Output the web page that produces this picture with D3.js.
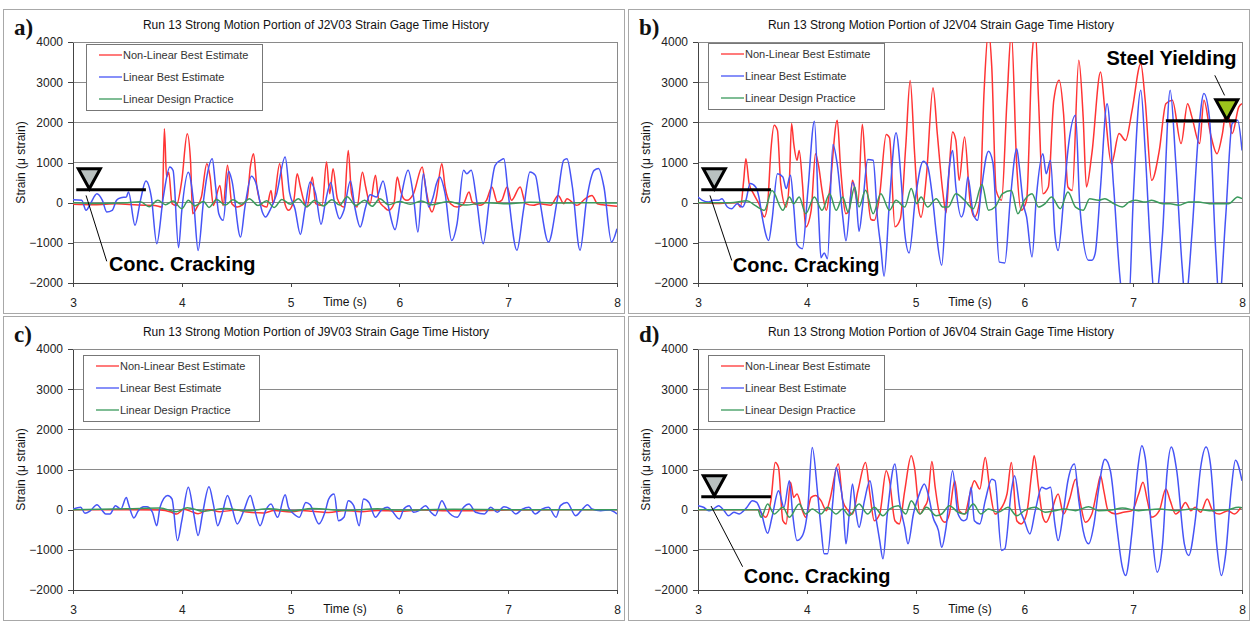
<!DOCTYPE html>
<meta charset="utf-8">
<style>
body { margin: 0; background: #fff; }
text { font-family: Arial, "Liberation Sans", sans-serif; fill: #111; }
.frame { fill: none; stroke: #a8a8a8; }
.grid line { stroke: #8a8a8a; shape-rendering: crispEdges; }
.axis path, .axis line { stroke: #444; shape-rendering: crispEdges; }
.axis text { font-size: 12px; font-family: Arial, "Liberation Sans", sans-serif; fill: #222; }
.series { fill: none; stroke-width: 1.5; stroke-linejoin: round; }
.legend rect { fill: #fff; stroke: #777; }
.note { font-weight: bold; font-size: 20px; fill: #000; }
</style>
<body>
<script src="https://d3js.org/d3.v7.min.js"></script>
<script>
var timeTicks = [3, 4, 5, 6, 7, 8];
var strainTicks = [-2000, -1000, 0, 1000, 2000, 3000, 4000];
var seriesNames = ["Non-Linear Best Estimate", "Linear Best Estimate", "Linear Design Practice"];
var seriesColors = ["#ff3434", "#4654f6", "#3a9a5c"];

// a) J2V03  [time (s), strain (micro strain)]
var j2v03NonLinear = [[3.00,-40],[3.20,-50],[3.40,-30],[3.60,-60],[3.75,-70],[3.82,-110],[3.84,1840],[3.86,640],[3.88,760],[3.91,-25],[3.95,-70],[4.00,555],[4.05,1715],[4.08,1050],[4.10,-275],[4.14,-110],[4.18,140],[4.23,970],[4.26,640],[4.29,-70],[4.35,430],[4.38,-70],[4.42,930],[4.46,-25],[4.51,-110],[4.55,-70],[4.60,100],[4.63,890],[4.66,1220],[4.69,390],[4.74,-70],[4.78,-110],[4.82,305],[4.84,-25],[4.90,970],[4.94,60],[4.98,-190],[5.03,60],[5.06,720],[5.09,390],[5.12,60],[5.15,-110],[5.20,640],[5.23,-25],[5.29,-70],[5.33,1010],[5.36,225],[5.39,845],[5.43,100],[5.49,-110],[5.53,1300],[5.56,225],[5.61,-110],[5.66,760],[5.69,390],[5.73,-25],[5.78,680],[5.81,60],[5.86,-110],[5.90,-190],[5.95,-25],[5.98,640],[6.01,305],[6.04,100],[6.07,58],[6.13,225],[6.21,890],[6.24,390],[6.30,-230],[6.34,140],[6.39,970],[6.42,390],[6.47,-25],[6.53,-108],[6.59,-25],[6.64,265],[6.67,15],[6.74,-65],[6.80,58],[6.85,390],[6.90,15],[6.94,58],[6.99,390],[7.03,58],[7.11,390],[7.16,-25],[7.23,-65],[7.29,-25],[7.39,-65],[7.46,180],[7.51,-25],[7.54,100],[7.63,-65],[7.71,100],[7.77,180],[7.82,-25],[7.91,-65],[8.00,-90]];
var j2v03Linear = [[3.00,75],[3.08,58],[3.12,-190],[3.16,-25],[3.22,225],[3.27,58],[3.31,-230],[3.36,-190],[3.40,58],[3.44,125],[3.49,140],[3.51,265],[3.57,-565],[3.62,58],[3.67,540],[3.72,140],[3.77,-1020],[3.83,140],[3.89,890],[3.92,800],[3.97,-1120],[4.00,-190],[4.06,760],[4.11,-25],[4.15,-1190],[4.20,60],[4.23,640],[4.28,1095],[4.31,420],[4.34,-275],[4.38,-440],[4.43,780],[4.46,555],[4.54,-855],[4.58,-108],[4.64,660],[4.68,500],[4.74,-230],[4.77,-355],[4.81,-190],[4.87,200],[4.95,1140],[4.99,260],[5.04,-150],[5.09,-790],[5.13,-190],[5.18,515],[5.23,225],[5.28,-540],[5.32,15],[5.37,500],[5.40,60],[5.45,-400],[5.49,-190],[5.55,540],[5.59,-108],[5.64,-605],[5.69,-108],[5.73,200],[5.79,140],[5.85,540],[5.90,-108],[5.96,-670],[6.01,58],[6.08,805],[6.13,140],[6.17,-730],[6.22,720],[6.27,-108],[6.31,140],[6.34,470],[6.37,640],[6.42,225],[6.48,-940],[6.53,-520],[6.59,805],[6.62,720],[6.66,805],[6.71,58],[6.77,-1020],[6.83,140],[6.88,930],[6.93,1055],[6.96,1095],[7.00,225],[7.08,-1185],[7.14,-190],[7.20,765],[7.25,680],[7.29,58],[7.37,-980],[7.45,58],[7.51,1055],[7.54,1095],[7.59,390],[7.66,-1185],[7.72,58],[7.79,805],[7.83,850],[7.88,390],[7.95,-980],[8.00,-650]];
var j2v03Design = [[3.00,0],[3.20,-20],[3.50,0],[3.62,20],[3.70,-100],[3.78,60],[3.85,-50],[3.92,40],[4.00,-150],[4.06,60],[4.12,-80],[4.20,30],[4.25,-120],[4.32,80],[4.40,-60],[4.47,70],[4.55,-40],[4.62,100],[4.70,-70],[4.78,50],[4.85,-120],[4.92,80],[5.00,-40],[5.07,100],[5.15,-100],[5.22,60],[5.30,-80],[5.38,70],[5.45,-60],[5.52,150],[5.60,-70],[5.68,60],[5.75,-90],[5.82,100],[5.90,-50],[6.00,30],[6.10,-40],[6.20,40],[6.30,-50],[6.45,30],[6.60,-60],[6.80,0],[7.00,-30],[7.20,10],[7.50,-10],[7.80,0],[8.00,-10]];

// b) J2V04
var j2v04NonLinear = [[3.00,0],[3.20,-20],[3.36,0],[3.39,-110],[3.42,555],[3.44,1095],[3.47,475],[3.51,225],[3.56,-25],[3.61,-355],[3.64,-25],[3.67,1300],[3.70,1925],[3.73,1800],[3.76,475],[3.81,-108],[3.84,555],[3.86,1970],[3.88,1470],[3.91,1055],[3.93,1300],[3.96,475],[3.99,-605],[4.04,-190],[4.08,1220],[4.11,890],[4.14,307],[4.18,-190],[4.21,307],[4.28,2050],[4.31,890],[4.36,-275],[4.39,-190],[4.42,555],[4.47,-25],[4.51,1950],[4.54,890],[4.59,-420],[4.62,-440],[4.67,200],[4.73,1700],[4.76,1620],[4.81,-600],[4.86,-400],[4.91,1430],[4.95,3040],[4.99,1260],[5.02,15],[5.05,-360],[5.10,680],[5.16,2860],[5.20,1700],[5.25,265],[5.28,-250],[5.31,890],[5.34,1760],[5.37,1550],[5.40,555],[5.45,1635],[5.50,60],[5.54,-355],[5.59,60],[5.63,2800],[5.67,4300],[5.70,3380],[5.74,305],[5.79,60],[5.84,2550],[5.88,4250],[5.93,890],[5.97,-190],[6.02,60],[6.07,3630],[6.10,4300],[6.13,2550],[6.17,225],[6.22,390],[6.27,2550],[6.32,3050],[6.36,2215],[6.40,390],[6.44,305],[6.50,3545],[6.54,2130],[6.57,390],[6.62,1220],[6.70,3250],[6.74,2300],[6.80,970],[6.87,1720],[6.93,1550],[6.99,2300],[7.07,3460],[7.11,2550],[7.17,555],[7.24,1300],[7.30,2465],[7.36,2550],[7.44,1470],[7.50,2465],[7.54,2130],[7.61,1470],[7.65,2550],[7.71,1720],[7.77,1220],[7.82,1720],[7.86,2380],[7.91,1720],[7.97,2380],[8.00,2465]];
var j2v04Linear = [[3.00,140],[3.04,58],[3.10,15],[3.14,58],[3.19,58],[3.22,100],[3.27,-108],[3.31,-150],[3.36,-25],[3.41,-108],[3.44,58],[3.48,475],[3.53,390],[3.56,140],[3.59,-355],[3.65,-940],[3.68,-440],[3.73,720],[3.78,640],[3.81,350],[3.85,680],[3.88,-108],[3.91,-1040],[3.96,-1145],[4.01,300],[4.07,2030],[4.11,-400],[4.13,-1370],[4.16,-1250],[4.19,-1395],[4.24,1450],[4.28,950],[4.33,-340],[4.36,-950],[4.42,500],[4.45,245],[4.48,-715],[4.51,-150],[4.56,1075],[4.61,1055],[4.65,-400],[4.68,-1100],[4.71,-1830],[4.76,40],[4.82,1740],[4.87,450],[4.90,-750],[4.94,-1250],[5.00,150],[5.07,1030],[5.11,910],[5.16,15],[5.19,-750],[5.24,-1560],[5.28,-50],[5.34,1300],[5.37,390],[5.42,-355],[5.45,-110],[5.48,640],[5.53,-275],[5.57,-440],[5.60,225],[5.67,1280],[5.71,1000],[5.77,-1480],[5.82,-1500],[5.87,60],[5.93,1345],[5.95,970],[5.99,-25],[6.02,-355],[6.07,-1350],[6.11,140],[6.17,1220],[6.20,720],[6.24,1055],[6.28,-770],[6.31,-1190],[6.36,60],[6.40,1300],[6.47,2175],[6.51,-110],[6.59,-1435],[6.62,-1435],[6.65,-1270],[6.70,390],[6.76,2465],[6.82,390],[6.90,-2300],[6.96,-2450],[7.00,60],[7.07,2800],[7.11,1300],[7.16,-1190],[7.20,-2450],[7.27,-770],[7.34,2800],[7.39,1055],[7.45,-1600],[7.48,-2450],[7.54,-770],[7.60,1720],[7.65,2715],[7.70,2130],[7.76,-1270],[7.79,-2450],[7.85,-355],[7.91,1970],[7.96,2050],[8.00,1300]];
var j2v04Design = [[3.00,0],[3.30,0],[3.45,50],[3.52,-60],[3.61,-190],[3.68,300],[3.78,-190],[3.84,140],[3.88,-25],[3.93,140],[3.99,-275],[4.07,140],[4.14,-190],[4.21,225],[4.27,-190],[4.33,140],[4.38,-230],[4.44,390],[4.48,-108],[4.54,307],[4.61,-275],[4.68,225],[4.76,-190],[4.82,58],[4.90,-108],[4.96,350],[5.01,-25],[5.05,140],[5.11,-108],[5.19,100],[5.25,-108],[5.30,-110],[5.37,225],[5.45,60],[5.53,-150],[5.61,450],[5.67,-190],[5.73,-110],[5.80,225],[5.88,305],[5.94,-275],[6.00,60],[6.07,225],[6.13,-110],[6.19,-25],[6.25,140],[6.33,-150],[6.40,265],[6.47,-110],[6.54,-190],[6.60,100],[6.68,60],[6.74,100],[6.82,-25],[6.90,-110],[6.96,15],[7.02,60],[7.11,15],[7.17,60],[7.27,-25],[7.34,-25],[7.42,-65],[7.51,15],[7.60,15],[7.70,-25],[7.79,-25],[7.88,-25],[7.96,140],[8.00,100]];

// c) J9V03
var j9v03NonLinear = [[3.00,0],[3.50,0],[3.80,-10],[3.90,-60],[3.95,-110],[4.02,10],[4.10,-60],[4.15,-100],[4.25,0],[4.35,-50],[4.50,-10],[4.60,-60],[4.75,-80],[4.85,-20],[5.00,-60],[5.10,-20],[5.20,-40],[5.35,-70],[5.50,-20],[5.65,-50],[5.80,-20],[6.00,-40],[6.20,-10],[6.50,-30],[7.00,-10],[7.50,0],[8.00,0]];
var j9v03Linear = [[3.00,15],[3.07,60],[3.11,-90],[3.16,-25],[3.22,125],[3.27,-25],[3.30,-108],[3.34,-108],[3.39,100],[3.44,15],[3.49,305],[3.51,140],[3.56,-205],[3.60,-25],[3.65,75],[3.68,75],[3.73,-65],[3.77,-400],[3.80,60],[3.87,350],[3.91,265],[3.96,-770],[4.00,-275],[4.06,555],[4.11,-108],[4.15,-645],[4.19,-108],[4.25,570],[4.29,140],[4.33,-400],[4.37,-108],[4.42,350],[4.46,60],[4.51,-355],[4.57,-25],[4.63,350],[4.66,100],[4.72,-400],[4.77,-25],[4.82,140],[4.88,-190],[4.95,370],[4.98,60],[5.03,-108],[5.08,-190],[5.14,180],[5.18,120],[5.26,-355],[5.32,-25],[5.35,265],[5.40,390],[5.44,-275],[5.49,-190],[5.53,225],[5.58,100],[5.63,-400],[5.67,265],[5.72,180],[5.78,-190],[5.83,-25],[5.89,60],[5.93,-25],[6.00,-230],[6.04,15],[6.09,100],[6.13,-65],[6.18,-25],[6.24,100],[6.29,-65],[6.33,-150],[6.39,225],[6.44,-25],[6.53,-190],[6.59,60],[6.64,140],[6.70,-65],[6.78,-108],[6.84,60],[6.90,-65],[6.96,75],[7.02,15],[7.07,-108],[7.13,15],[7.19,60],[7.25,-108],[7.31,15],[7.37,60],[7.44,-190],[7.48,100],[7.54,180],[7.62,-150],[7.67,-25],[7.73,125],[7.77,15],[7.85,-25],[7.93,-10],[8.00,-108]];
var j9v03Design = [[3.00,0],[3.50,20],[3.80,40],[3.95,-50],[4.05,50],[4.20,-40],[4.40,30],[4.60,-30],[4.80,20],[5.00,-30],[5.20,30],[5.50,-20],[5.80,20],[6.00,-10],[6.50,10],[7.00,0],[8.00,0]];

// d) J6V04
var j6v04NonLinear = [[3.00,0],[3.30,0],[3.55,0],[3.59,-108],[3.62,-190],[3.67,225],[3.71,1175],[3.74,1050],[3.78,-275],[3.81,-355],[3.85,680],[3.88,305],[3.91,390],[3.96,-25],[3.99,-190],[4.04,305],[4.08,350],[4.13,225],[4.18,-25],[4.21,225],[4.29,1135],[4.33,225],[4.38,-25],[4.42,-108],[4.47,470],[4.54,1175],[4.58,390],[4.62,-275],[4.67,-108],[4.73,970],[4.76,720],[4.81,-275],[4.85,-355],[4.90,470],[4.96,1340],[4.99,1050],[5.04,-108],[5.08,60],[5.11,225],[5.15,1200],[5.18,555],[5.22,-108],[5.27,-315],[5.31,-108],[5.36,720],[5.40,-25],[5.45,-108],[5.50,390],[5.54,720],[5.59,515],[5.64,1300],[5.68,555],[5.73,-108],[5.77,-25],[5.84,390],[5.88,1175],[5.93,-275],[5.97,-355],[6.02,-108],[6.07,970],[6.09,1340],[6.13,555],[6.17,-190],[6.20,-315],[6.25,-25],[6.31,390],[6.36,-108],[6.42,305],[6.47,760],[6.51,225],[6.56,-315],[6.62,-108],[6.67,515],[6.70,845],[6.73,470],[6.77,-25],[6.84,-108],[6.91,-65],[6.99,-25],[7.05,390],[7.09,680],[7.13,225],[7.17,-190],[7.24,-25],[7.30,515],[7.34,225],[7.39,-108],[7.44,15],[7.48,180],[7.53,-25],[7.57,60],[7.62,-65],[7.68,265],[7.73,-25],[7.79,-108],[7.87,-25],[7.93,-108],[7.99,60]];
var j6v04Linear = [[3.00,100],[3.05,60],[3.10,-25],[3.14,15],[3.19,100],[3.24,-25],[3.28,-150],[3.33,-65],[3.38,-108],[3.42,-25],[3.45,60],[3.50,225],[3.54,180],[3.58,-65],[3.64,-590],[3.68,-190],[3.74,470],[3.79,60],[3.84,720],[3.87,-108],[3.91,-770],[3.96,-645],[4.01,60],[4.05,1550],[4.10,390],[4.13,-440],[4.16,-1100],[4.19,-1100],[4.24,225],[4.27,1050],[4.30,720],[4.33,225],[4.36,-850],[4.39,-108],[4.42,640],[4.45,-25],[4.48,-440],[4.53,225],[4.58,720],[4.62,60],[4.67,-770],[4.70,-1225],[4.74,-108],[4.81,1135],[4.85,225],[4.90,-440],[4.93,-850],[4.98,-108],[5.04,430],[5.08,640],[5.12,330],[5.16,-190],[5.21,-520],[5.24,-935],[5.28,-440],[5.34,970],[5.39,-108],[5.44,-275],[5.47,-230],[5.51,555],[5.54,-275],[5.59,-355],[5.64,225],[5.70,760],[5.73,720],[5.79,-1015],[5.82,-975],[5.88,470],[5.91,845],[5.96,15],[6.00,-275],[6.05,-605],[6.10,-25],[6.16,555],[6.20,515],[6.24,555],[6.28,-355],[6.31,-770],[6.36,-25],[6.40,720],[6.46,1135],[6.50,225],[6.54,-520],[6.59,-850],[6.64,-355],[6.68,470],[6.74,1255],[6.79,970],[6.85,-440],[6.90,-1430],[6.93,-1640],[6.99,-520],[7.04,970],[7.08,1590],[7.11,1300],[7.17,-520],[7.22,-1555],[7.27,-850],[7.31,885],[7.35,1560],[7.40,970],[7.47,-850],[7.51,-1140],[7.57,-275],[7.62,1050],[7.67,1560],[7.71,1135],[7.77,-935],[7.81,-1640],[7.85,-1100],[7.90,470],[7.94,1230],[8.00,720]];
var j6v04Design = [[3.00,0],[3.55,0],[3.58,-190],[3.64,140],[3.70,-108],[3.78,60],[3.84,-190],[3.93,140],[3.99,-108],[4.05,15],[4.13,-108],[4.19,60],[4.27,-108],[4.33,15],[4.39,-150],[4.48,140],[4.56,-108],[4.62,60],[4.70,-150],[4.76,15],[4.84,100],[4.91,-108],[4.96,225],[5.04,-108],[5.10,60],[5.19,-150],[5.24,-108],[5.31,100],[5.39,-65],[5.45,-108],[5.53,140],[5.60,-108],[5.67,15],[5.76,-65],[5.85,60],[5.93,-150],[6.00,-25],[6.10,60],[6.19,-65],[6.28,-25],[6.37,15],[6.47,-25],[6.59,75],[6.68,-25],[6.80,-10],[6.90,40],[7.05,-25],[7.24,15],[7.39,-25],[7.54,15],[7.70,-25],[7.85,-10],[7.97,60],[8.00,50]];

// annotation values (strain levels and where the callouts sit)
var crackStrain = 320, crackSpan = [3.03, 3.67], crackMarkT = 3.15;
var yieldStrain = 2040, yieldSpan = [7.30, 7.95], yieldMarkT = 7.86;

var W = 1251, H = 626;
var frameW = 621, frameH = 304;
var plotX = 70, plotY = 33, plotW = 544, plotH = 241;

var svg = d3.select("body").append("svg")
  .attr("width", W)
  .attr("height", H);

var panels = [
  {label: "a)", gage: "J2V03", left: 3, top: 9, data: [j2v03NonLinear, j2v03Linear, j2v03Design],
   legend: [83, 35], crack: {leader: [[3.12, 180], [3.31, -1460]], text: [3.33, -1530]}},
  {label: "b)", gage: "J2V04", left: 628, top: 9, data: [j2v04NonLinear, j2v04Linear, j2v04Design],
   legend: [80, 34], crack: {leader: [[3.11, 180], [3.31, -1440]], text: [3.32, -1560]}, steel: true},
  {label: "c)", gage: "J9V03", left: 3, top: 316, data: [j9v03NonLinear, j9v03Linear, j9v03Design],
   legend: [80, 39]},
  {label: "d)", gage: "J6V04", left: 628, top: 316, data: [j6v04NonLinear, j6v04Linear, j6v04Design],
   legend: [80, 39], crack: {leader: [[3.12, 90], [3.41, -1420]], text: [3.42, -1645]}}
];

panels.forEach(function(p, i) {
  var g = svg.append("g").attr("transform", "translate(" + p.left + "," + p.top + ")");

  g.append("rect").attr("class", "frame")
    .attr("x", 0.5).attr("y", 0.5)
    .attr("width", frameW).attr("height", frameH);

  g.append("text")
    .attr("x", 11).attr("y", 26)
    .style("font-family", "'Liberation Serif', 'Times New Roman', serif")
    .style("font-size", "23px")
    .style("font-weight", "bold")
    .text(p.label);

  g.append("text")
    .attr("x", 313).attr("y", 20)
    .attr("text-anchor", "middle")
    .style("font-size", "12px")
    .text("Run 13 Strong Motion Portion of " + p.gage + " Strain Gage Time History");

  var plot = g.append("g").attr("transform", "translate(" + plotX + "," + plotY + ")");

  var x = d3.scaleLinear().domain([3, 8]).range([0, plotW]);
  var y = d3.scaleLinear().domain([-2000, 4000]).range([plotH, 0]);

  plot.append("g").attr("class", "grid")
    .selectAll("line")
    .data(strainTicks)
    .join("line")
    .attr("x1", 0).attr("x2", plotW)
    .attr("y1", function(d) { return y(d); })
    .attr("y2", function(d) { return y(d); });

  plot.append("line")
    .attr("x1", plotW).attr("x2", plotW)
    .attr("y1", 0).attr("y2", plotH)
    .attr("stroke", "#8a8a8a")
    .style("shape-rendering", "crispEdges");

  plot.append("g").attr("class", "axis")
    .call(d3.axisLeft(y).tickValues(strainTicks).tickFormat(d3.format("d"))
      .tickSize(5).tickPadding(5).tickSizeOuter(0));

  plot.append("g").attr("class", "axis")
    .attr("transform", "translate(0," + plotH + ")")
    .call(d3.axisBottom(x).tickValues(timeTicks).tickFormat(d3.format("d"))
      .tickSize(4).tickPadding(11).tickSizeOuter(0));

  plot.append("text")
    .attr("x", x(5.5)).attr("y", plotH + 23)
    .attr("text-anchor", "middle")
    .style("font-size", "12px")
    .text("Time (s)");

  plot.append("text")
    .attr("transform", "translate(-52," + (plotH / 2) + ") rotate(-90)")
    .attr("dy", "0.35em")
    .attr("text-anchor", "middle")
    .style("font-size", "12px")
    .text("Strain (\u03bc strain)");

  // series, clipped to the plot area
  var clipId = "clip-" + i;
  plot.append("clipPath").attr("id", clipId)
    .append("rect").attr("width", plotW).attr("height", plotH);

  var line = d3.line()
    .x(function(d) { return x(d[0]); })
    .y(function(d) { return y(d[1]); })
    .curve(d3.curveMonotoneX);

  plot.append("g").attr("clip-path", "url(#" + clipId + ")")
    .selectAll("path")
    .data(p.data)
    .join("path")
    .attr("class", "series")
    .attr("stroke", function(d, k) { return seriesColors[k]; })
    .attr("d", line);

  // legend
  var lg = g.append("g").attr("class", "legend")
    .attr("transform", "translate(" + p.legend[0] + "," + p.legend[1] + ")");
  lg.append("rect").attr("x", 0.5).attr("y", 0.5).attr("width", 176).attr("height", 66);
  var rows = lg.selectAll("g.row").data(seriesNames).join("g")
    .attr("class", "row")
    .attr("transform", function(d, k) { return "translate(0," + (11 + k * 22) + ")"; });
  rows.append("line")
    .attr("x1", 13).attr("x2", 36)
    .attr("stroke", function(d, k) { return seriesColors[k]; })
    .attr("stroke-width", 1.3);
  rows.append("text")
    .attr("x", 37).attr("dy", "0.35em")
    .style("font-size", "11px")
    .style("fill", "#333")
    .text(function(d) { return d; });

  // concrete cracking callout
  if (p.crack) {
    var cy = y(crackStrain);
    var cx = x(crackMarkT);
    plot.append("path")
      .attr("d", "M" + (cx - 11) + "," + (cy - 21) + "L" + (cx + 11) + "," + (cy - 21) + "L" + cx + "," + (cy - 1) + "Z")
      .attr("fill", "#b9c1c0")
      .attr("stroke", "#000")
      .attr("stroke-width", 3)
      .attr("stroke-linejoin", "miter");
    plot.append("line")
      .attr("x1", x(crackSpan[0])).attr("x2", x(crackSpan[1]))
      .attr("y1", cy).attr("y2", cy)
      .attr("stroke", "#000").attr("stroke-width", 3);
    plot.append("line")
      .attr("x1", x(p.crack.leader[0][0])).attr("y1", y(p.crack.leader[0][1]))
      .attr("x2", x(p.crack.leader[1][0])).attr("y2", y(p.crack.leader[1][1]))
      .attr("stroke", "#000").attr("stroke-width", 1);
    plot.append("text").attr("class", "note")
      .attr("x", x(p.crack.text[0])).attr("y", y(p.crack.text[1]))
      .attr("dy", "0.35em")
      .text("Conc. Cracking");
  }

  // steel yielding callout
  if (p.steel) {
    var sy = y(yieldStrain);
    var sx = x(yieldMarkT);
    plot.append("line")
      .attr("x1", x(yieldSpan[0])).attr("x2", x(yieldSpan[1]))
      .attr("y1", sy).attr("y2", sy)
      .attr("stroke", "#000").attr("stroke-width", 3);
    plot.append("path")
      .attr("d", "M" + (sx - 11) + "," + (sy - 21) + "L" + (sx + 11) + "," + (sy - 21) + "L" + sx + "," + (sy - 1) + "Z")
      .attr("fill", "#9cc41c")
      .attr("stroke", "#000")
      .attr("stroke-width", 3);
    plot.append("line")
      .attr("x1", x(7.75)).attr("y1", y(3170))
      .attr("x2", x(7.84)).attr("y2", y(2670))
      .attr("stroke", "#000").attr("stroke-width", 1);
    plot.append("text").attr("class", "note")
      .attr("x", x(6.755)).attr("y", y(3590))
      .attr("dy", "0.35em")
      .text("Steel Yielding");
  }
});
</script>
</body>
